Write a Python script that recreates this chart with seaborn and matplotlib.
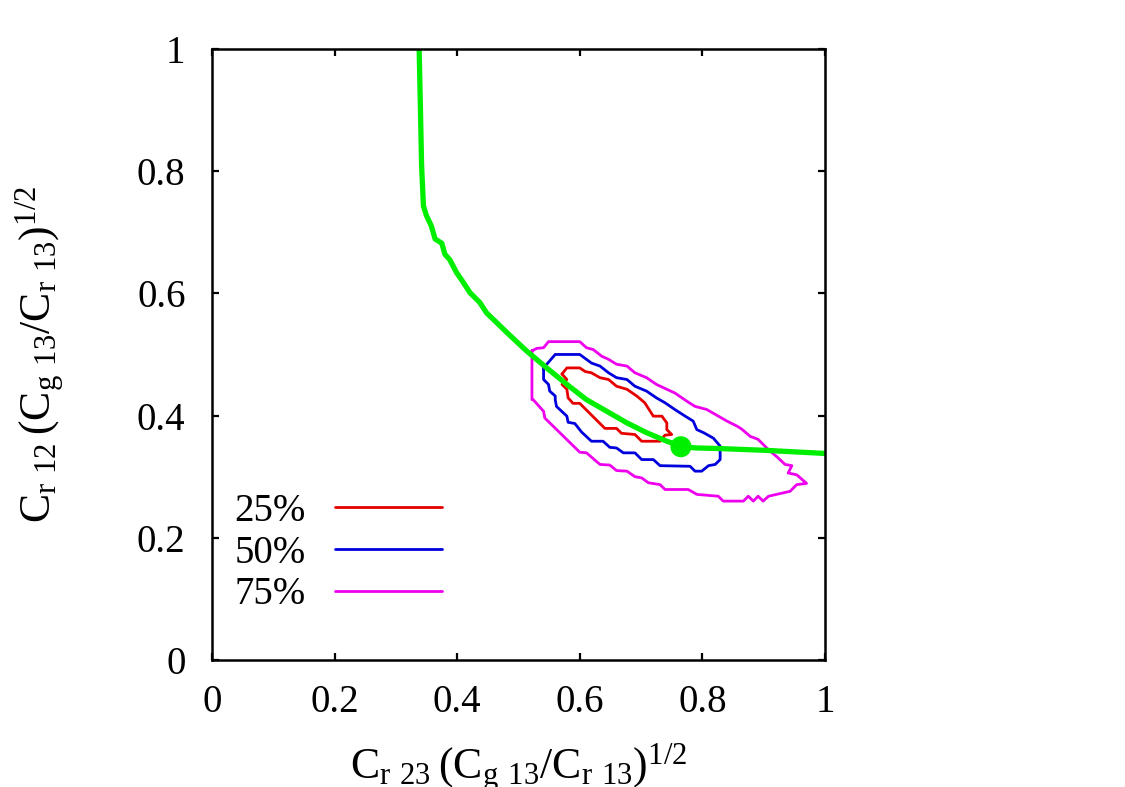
import matplotlib
matplotlib.use('Agg')
import matplotlib.pyplot as plt
import seaborn as sns
from matplotlib.lines import Line2D

# Green reference curve
curve_x = [0.338, 0.340, 0.342, 0.345, 0.350, 0.358, 0.364, 0.375, 0.380, 0.388,
           0.399, 0.410, 0.421, 0.437, 0.448, 0.481, 0.513, 0.546, 0.579, 0.611,
           0.644, 0.677, 0.709, 0.742, 0.768, 0.790, 0.829, 0.905, 1.0]
curve_y = [1.0, 0.907, 0.809, 0.743, 0.727, 0.710, 0.689, 0.682, 0.664, 0.655,
           0.634, 0.618, 0.601, 0.585, 0.568, 0.536, 0.506, 0.478, 0.451, 0.426,
           0.407, 0.388, 0.372, 0.358, 0.349, 0.347, 0.346, 0.343, 0.338]

# best-fit point
best_x = [0.765]
best_y = [0.349]

# 25% contour
c25_x = [0.571, 0.579, 0.600, 0.609, 0.619, 0.633, 0.647, 0.660, 0.677, 0.693,
         0.706, 0.720, 0.734, 0.742, 0.742, 0.750, 0.739, 0.731, 0.701, 0.690,
         0.668, 0.660, 0.641, 0.600, 0.589, 0.581, 0.579, 0.571, 0.579, 0.571]
c25_y = [0.468, 0.478, 0.478, 0.472, 0.470, 0.462, 0.459, 0.448, 0.443, 0.432,
         0.421, 0.399, 0.399, 0.388, 0.377, 0.369, 0.368, 0.358, 0.358, 0.369,
         0.371, 0.379, 0.379, 0.420, 0.420, 0.429, 0.443, 0.451, 0.459, 0.468]

# 50% contour
c50_x = [0.541, 0.560, 0.600, 0.619, 0.633, 0.647, 0.660, 0.677, 0.690, 0.709,
         0.725, 0.739, 0.755, 0.772, 0.785, 0.791, 0.802, 0.818, 0.829, 0.829,
         0.821, 0.810, 0.799, 0.788, 0.780, 0.731, 0.720, 0.701, 0.690, 0.671,
         0.660, 0.649, 0.638, 0.619, 0.603, 0.592, 0.581, 0.579, 0.562, 0.560,
         0.560, 0.551, 0.549, 0.541, 0.541]
c50_y = [0.478, 0.500, 0.500, 0.486, 0.481, 0.470, 0.462, 0.459, 0.448, 0.440,
         0.429, 0.421, 0.410, 0.399, 0.391, 0.377, 0.372, 0.363, 0.350, 0.328,
         0.320, 0.318, 0.309, 0.309, 0.317, 0.318, 0.328, 0.328, 0.339, 0.339,
         0.347, 0.348, 0.358, 0.358, 0.373, 0.387, 0.389, 0.399, 0.415, 0.426,
         0.432, 0.440, 0.451, 0.459, 0.478]

# 75% contour
c75_x = [0.522, 0.530, 0.541, 0.549, 0.600, 0.611, 0.622, 0.636, 0.647, 0.660,
         0.677, 0.690, 0.709, 0.725, 0.742, 0.755, 0.774, 0.788, 0.807, 0.821,
         0.840, 0.856, 0.864, 0.878, 0.891, 0.908, 0.921, 0.935, 0.946, 0.940,
         0.954, 0.970, 0.954, 0.943, 0.921, 0.908, 0.899, 0.891, 0.883, 0.875,
         0.867, 0.834, 0.826, 0.791, 0.777, 0.739, 0.731, 0.712, 0.701, 0.690,
         0.677, 0.660, 0.649, 0.633, 0.611, 0.600, 0.543, 0.541, 0.524, 0.522,
         0.522]
c75_y = [0.506, 0.510, 0.511, 0.521, 0.521, 0.511, 0.508, 0.497, 0.492, 0.484,
         0.481, 0.470, 0.462, 0.451, 0.443, 0.437, 0.424, 0.415, 0.410, 0.402,
         0.391, 0.383, 0.378, 0.366, 0.361, 0.344, 0.333, 0.320, 0.318, 0.306,
         0.303, 0.289, 0.287, 0.276, 0.271, 0.268, 0.260, 0.268, 0.260, 0.268,
         0.260, 0.260, 0.268, 0.271, 0.279, 0.279, 0.287, 0.290, 0.298, 0.300,
         0.309, 0.310, 0.319, 0.320, 0.339, 0.340, 0.396, 0.407, 0.426, 0.426,
         0.506]

levels = ['25%', '50%', '75%']
level_colors = ['#e60000', '#0000dd', '#ee00ee']
ticks = [0, 0.2, 0.4, 0.6, 0.8, 1]
tick_labels = ['0', '0.2', '0.4', '0.6', '0.8', '1']

sns.set_theme(style='ticks')
plt.rcParams['font.family'] = ['Liberation Serif', 'DejaVu Serif']
plt.rcParams['mathtext.fontset'] = 'custom'
plt.rcParams['mathtext.rm'] = 'Liberation Serif'
plt.rcParams['text.color'] = 'black'
plt.rcParams['axes.labelcolor'] = 'black'

fig = plt.figure(figsize=(11.25, 7.87), dpi=100)
ax = fig.add_axes([0.1884, 0.1614, 0.5449, 0.7764])

contours = [(c25_x, c25_y), (c50_x, c50_y), (c75_x, c75_y)]
for (cx, cy), col in zip(contours, level_colors):
    sns.lineplot(x=cx, y=cy, sort=False, estimator=None, color=col, lw=2.0, ax=ax)

sns.lineplot(x=curve_x, y=curve_y, sort=False, estimator=None, color='#00ee00', lw=3.8, ax=ax)
sns.scatterplot(x=best_x, y=best_y, color='#00ee00', s=230, edgecolor='none', ax=ax, zorder=5)

ax.set_xlim(0, 1)
ax.set_ylim(0, 1)
ax.set_xticks(ticks)
ax.set_xticklabels(tick_labels)
ax.set_yticks(ticks)
ax.set_yticklabels(tick_labels)
ax.tick_params(direction='in', length=5, width=1.6, top=True, right=True,
               labelsize=28, colors='black')
ax.tick_params(axis='x', pad=17)
ax.tick_params(axis='y', pad=19)
for sp in ax.spines.values():
    sp.set_linewidth(1.8)
    sp.set_color('black')

# x label runs off the bottom edge, as in the original figure
ax.set_xlabel(r'$\mathregular{C_{r\ 23}\,(C_{g\ 13}/C_{r\ 13})^{1/2}}$', fontsize=31.5)
ax.set_ylabel(r'$\mathregular{C_{r\ 12}\,(C_{g\ 13}/C_{r\ 13})^{1/2}}$', fontsize=31.5)
ax.xaxis.set_label_coords(0.5, -0.134)
ax.yaxis.set_label_coords(-0.2365, 0.5)

handles = [Line2D([], [], color=c, lw=2.0) for c in level_colors]
ax.legend(handles, levels, loc='center left', bbox_to_anchor=(0.036, 0.175),
          frameon=False, markerfirst=False, fontsize=28, handlelength=2.75,
          handletextpad=0.75, labelspacing=0.12, borderpad=0, borderaxespad=0)

fig.savefig('out.png', dpi=100)
